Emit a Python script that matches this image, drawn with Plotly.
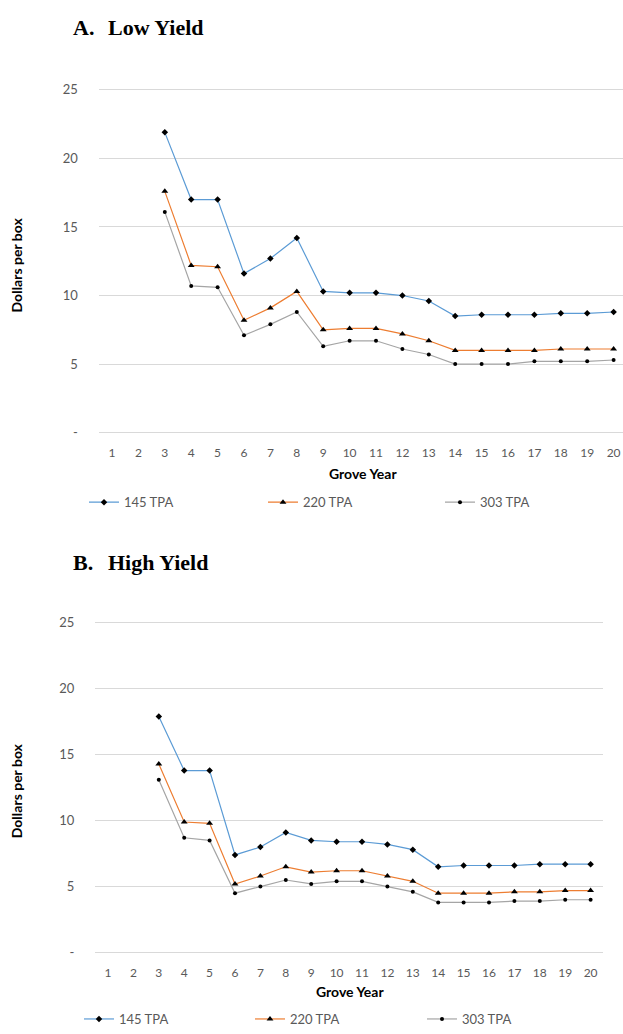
import plotly.graph_objects as go

# ---- data ----
years = list(range(1, 21))
year_labels = [str(y) for y in years]
series_names = ["145 TPA", "220 TPA", "303 TPA"]

low_145 = [None, None, 21.9, 17.0, 17.0, 11.6, 12.7, 14.2, 10.3, 10.2, 10.2, 10.0, 9.6, 8.5, 8.6, 8.6, 8.6, 8.7, 8.7, 8.8]
low_220 = [None, None, 17.6, 12.2, 12.1, 8.2, 9.1, 10.3, 7.5, 7.6, 7.6, 7.2, 6.7, 6.0, 6.0, 6.0, 6.0, 6.1, 6.1, 6.1]
low_303 = [None, None, 16.1, 10.7, 10.6, 7.1, 7.9, 8.8, 6.3, 6.7, 6.7, 6.1, 5.7, 5.0, 5.0, 5.0, 5.2, 5.2, 5.2, 5.3]

high_145 = [None, None, 17.9, 13.8, 13.8, 7.4, 8.0, 9.1, 8.5, 8.4, 8.4, 8.2, 7.8, 6.5, 6.6, 6.6, 6.6, 6.7, 6.7, 6.7]
high_220 = [None, None, 14.3, 9.9, 9.8, 5.2, 5.8, 6.5, 6.1, 6.2, 6.2, 5.8, 5.4, 4.5, 4.5, 4.5, 4.6, 4.6, 4.7, 4.7]
high_303 = [None, None, 13.1, 8.7, 8.5, 4.5, 5.0, 5.5, 5.2, 5.4, 5.4, 5.0, 4.6, 3.8, 3.8, 3.8, 3.9, 3.9, 4.0, 4.0]

y_tickvals = [0, 5, 10, 15, 20, 25]
y_ticktext = ["-", "5", "10", "15", "20", "25"]

# ---- styling / geometry (page pixels) ----
W, H = 623, 1034
colors = ["#5B9BD5", "#ED7D31", "#A5A5A5"]
symbols = ["diamond", "triangle-up", "circle"]
msizes = [5, 6, 4]
FONT = "Lato"
TICKC = "#595959"
GRID = "#D9D9D9"
YPAD = 0.12  # small range pad so gridlines at 0 and 25 are drawn


def fx(p):
    return p / W


def fy(p):
    return 1 - p / H


def ydomain(p0, p25):
    per = (p0 - p25) / 25.0
    return [fy(p0 + YPAD * per), fy(p25 - YPAD * per)]


fig = go.Figure()

panels = [
    (["x", "y"], [low_145, low_220, low_303], ["legend", "legend2", "legend3"]),
    (["x2", "y2"], [high_145, high_220, high_303], ["legend4", "legend5", "legend6"]),
]
for (xa, ya), vals, legs in panels:
    for i, name in enumerate(series_names):
        fig.add_trace(go.Scatter(
            x=years, y=vals[i], name=name, mode="lines+markers",
            xaxis=xa, yaxis=ya, legend=legs[i],
            line=dict(color=colors[i], width=1.2),
            marker=dict(symbol=symbols[i], size=msizes[i], color="black"),
            connectgaps=False,
        ))

axis_common_x = dict(
    tickvals=years, ticktext=year_labels, showgrid=False, zeroline=False,
    showline=False, ticks="", tickfont=dict(family=FONT, size=12, color=TICKC),
    ticklabelstandoff=10, fixedrange=True,
)
axis_common_y = dict(
    tickvals=y_tickvals, ticktext=y_ticktext, range=[-YPAD, 25 + YPAD], showgrid=True,
    gridcolor=GRID, gridwidth=1, zeroline=False, showline=False, ticks="",
    tickfont=dict(family=FONT, size=13, color=TICKC), ticklabelstandoff=20,
    fixedrange=True,
)

top_x0 = 98.8
top_step = 26.4
top_xmax = 0.5 + (W - top_x0) / top_step

fig.update_layout(
    width=W, height=H,
    margin=dict(l=0, r=0, t=0, b=0),
    paper_bgcolor="white", plot_bgcolor="white",
    showlegend=True,
    xaxis=dict(axis_common_x, domain=[fx(top_x0), 1.0], range=[0.5, top_xmax], anchor="y"),
    yaxis=dict(axis_common_y, domain=ydomain(431.5, 84), anchor="x"),
    xaxis2=dict(axis_common_x, domain=[fx(95.3), fx(603.3)], range=[0.5, 20.5], anchor="y2"),
    yaxis2=dict(axis_common_y, domain=ydomain(958.5, 624.3), anchor="x2"),
)

leg_font = dict(family=FONT, size=13, color=TICKC)
leg_pos = {
    "legend": (124, 502), "legend2": (303, 502), "legend3": (480, 502),
    "legend4": (119, 1026), "legend5": (290, 1026), "legend6": (462, 1026),
}
for key, (tx, ty) in leg_pos.items():
    fig.update_layout({key: dict(orientation="h", x=fx(tx - 40), y=fy(ty), xanchor="left",
                                 yanchor="middle", font=leg_font, bgcolor="rgba(0,0,0,0)",
                                 itemwidth=30, borderwidth=0)})

ann = []
title_font = dict(family="Liberation Serif", size=22, color="black")
for lbl, txt, yc in [("A.", "Low Yield", 21), ("B.", "High Yield", 563)]:
    ann.append(dict(text="<b>%s</b>" % lbl, x=fx(71), y=fy(yc), xref="paper", yref="paper",
                    xanchor="left", yanchor="middle", showarrow=False, font=title_font))
    ann.append(dict(text="<b>%s</b>" % txt, x=fx(106), y=fy(yc), xref="paper", yref="paper",
                    xanchor="left", yanchor="middle", showarrow=False, font=title_font))

lab_font = dict(family=FONT, size=14, color="black")
for yc in [262, 795]:
    ann.append(dict(text="<b>Dollars per box</b>", x=fx(16), y=fy(yc), xref="paper", yref="paper",
                    xanchor="center", yanchor="middle", textangle=-90, showarrow=False, font=lab_font))
for xc, yc in [(363, 472.7), (349.5, 998)]:
    ann.append(dict(text="<b>Grove Year</b>", x=fx(xc), y=fy(yc), xref="paper", yref="paper",
                    xanchor="center", yanchor="middle", showarrow=False, font=lab_font))
fig.update_layout(annotations=ann)

fig.write_html(
    "out.html",
    config={"displayModeBar": False},
    post_script="document.body.style.margin='0';document.body.style.overflow='hidden';",
)
